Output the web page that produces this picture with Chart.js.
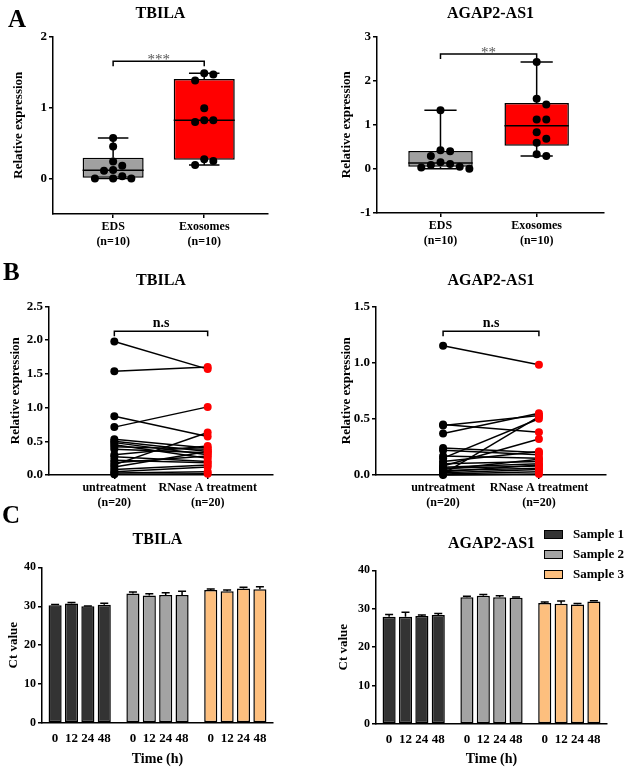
<!DOCTYPE html>
<html>
<head>
<meta charset="utf-8">
<script src="https://cdn.jsdelivr.net/npm/chart.js@4.4.1/dist/chart.umd.min.js"></script>
<style>
  body { margin: 0; background: #fff; }
  #fig { position: relative; width: 628px; height: 768px; font-family: 'Liberation Serif', 'Times New Roman', serif; }
  #fig canvas { position: absolute; }
  .letter { position: absolute; font-weight: bold; font-size: 25px; line-height: 1; }
  #legend { position: absolute; left: 544px; top: 524px; font-weight: bold; font-size: 13px; }
  #legend div { height: 20px; display: flex; align-items: center; }
  #legend .box { width: 17px; height: 7px; border: 1.5px solid #000; margin-right: 10px; }
</style>
</head>
<body>
<div id="fig">
  <canvas id="aLeft" width="314" height="250" style="left:0;top:0"></canvas>
  <canvas id="aRight" width="314" height="250" style="left:314px;top:0"></canvas>
  <canvas id="bLeft" width="314" height="262" style="left:0;top:250px"></canvas>
  <canvas id="bRight" width="314" height="262" style="left:314px;top:250px"></canvas>
  <canvas id="cLeft" width="314" height="268" style="left:0;top:500px"></canvas>
  <canvas id="cRight" width="314" height="268" style="left:314px;top:500px"></canvas>
  <div class="letter" style="left:8px;top:6px">A</div>
  <div class="letter" style="left:3px;top:259px">B</div>
  <div class="letter" style="left:2px;top:502px">C</div>
  <div id="legend"></div>
</div>
<script>
// panel A: exosome vs EDS, raw points per group
const boxLabels = [["EDS", "(n=10)"], ["Exosomes", "(n=10)"]];
const tbilaEds = [0.57, 0.45, 0.24, 0.18, 0.12, 0.11, 0.03, 0.0, 0.0, 0.0];
const tbilaExo = [1.48, 1.465, 1.38, 0.99, 0.82, 0.82, 0.795, 0.27, 0.245, 0.19];
const agapEds = [1.33, 0.42, 0.40, 0.29, 0.15, 0.11, 0.09, 0.05, 0.03, 0.0];
const agapExo = [2.42, 1.59, 1.46, 1.12, 1.12, 0.83, 0.68, 0.59, 0.33, 0.29];
const tbilaTicksA = [0, 1, 2];
const agapTicksA = [-1, 0, 1, 2, 3];

// panel B: paired samples, untreated -> RNase A
const pairLabels = [["untreatment", "(n=20)"], ["RNase A treatment", "(n=20)"]];
const tbilaUntreated = [1.98, 1.54, 0.87, 0.71, 0.53, 0.50, 0.48, 0.45, 0.42, 0.38, 0.30, 0.27, 0.22, 0.18, 0.15, 0.12, 0.08, 0.05, 0.03, 0.01];
const tbilaRnase =     [1.57, 1.60, 0.57, 1.01, 0.40, 0.35, 0.30, 0.25, 0.38, 0.33, 0.43, 0.20, 0.18, 0.28, 0.63, 0.35, 0.15, 0.12, 0.05, 0.02];
const agapUntreated = [1.15, 0.45, 0.44, 0.37, 0.24, 0.22, 0.17, 0.15, 0.12, 0.10, 0.08, 0.07, 0.06, 0.05, 0.04, 0.03, 0.02, 0.01, 0.01, 0.00];
const agapRnase =     [0.98, 0.38, 0.53, 0.55, 0.20, 0.18, 0.15, 0.50, 0.21, 0.12, 0.32, 0.10, 0.08, 0.14, 0.06, 0.09, 0.05, 0.03, 0.52, 0.01];
const tbilaTicksB = [0, 0.5, 1.0, 1.5, 2.0, 2.5];
const agapTicksB = [0, 0.5, 1.0, 1.5];

// panel C: Ct values over time per sample
const timeLabels = ["0", "12", "24", "48"];
const sampleNames = ["Sample 1", "Sample 2", "Sample 3"];
const sampleColors = ["#333333", "#a3a3a3", "#fdbf7e"];
const tbilaCt1 = [30.3, 30.7, 30.0, 30.4];
const tbilaCt2 = [33.3, 32.8, 32.9, 32.9];
const tbilaCt3 = [34.2, 33.9, 34.6, 34.4];
const tbilaErr1 = [0.15, 0.3, 0.1, 0.4];
const tbilaErr2 = [0.4, 0.4, 0.6, 1.0];
const tbilaErr3 = [0.25, 0.3, 0.3, 0.6];
const agapCt1 = [27.9, 27.9, 28.1, 28.4];
const agapCt2 = [33.0, 33.4, 33.0, 32.9];
const agapCt3 = [31.5, 31.3, 31.1, 31.9];
const agapErr1 = [0.6, 1.2, 0.3, 0.4];
const agapErr2 = [0.3, 0.3, 0.4, 0.2];
const agapErr3 = [0.25, 0.7, 0.3, 0.2];
const ctTicks = [0, 10, 20, 30, 40];

const serif = "'Liberation Serif', 'Times New Roman', serif";
Chart.defaults.font.family = serif;
Chart.defaults.font.weight = 'bold';
Chart.defaults.color = '#000';
Chart.defaults.animation = false;
Chart.defaults.plugins.legend.display = false;
Chart.defaults.plugins.tooltip.enabled = false;

function yAxis(o) {
  return {
    type: 'linear', min: o.min, max: o.max,
    border: { display: true, color: '#000', width: 1.5 },
    grid: { drawOnChartArea: false, tickLength: 4, color: '#000', lineWidth: 1.5 },
    ticks: { font: { size: o.tickSize || 13, weight: 'bold' }, color: '#000', padding: 2,
             callback: o.fmt || (v => v) },
    title: { display: true, text: o.title, font: { size: 13, weight: 'bold' }, color: '#000',
             padding: { top: o.titlePad, bottom: 0 } },
    afterBuildTicks: axis => { axis.ticks = o.ticks.map(v => ({ value: v })); },
    afterFit: axis => { axis.width = o.width; }
  };
}

function xAxis(o) {
  return {
    type: 'linear', min: o.min, max: o.max, offset: false,
    border: { display: true, color: '#000', width: 1.5 },
    grid: { display: o.tickMarks !== false, offset: false, drawOnChartArea: false, tickLength: 4, color: '#000', lineWidth: 1.5 },
    ticks: { font: { size: o.tickSize || 12, weight: 'bold' }, color: '#000', padding: o.pad,
             maxRotation: 0, autoSkip: false, callback: (v, i) => o.labels[i] },
    title: o.title
      ? { display: true, text: o.title, font: { size: 14, weight: 'bold' }, color: '#000', padding: { top: 0, bottom: 0 } }
      : { display: false },
    afterBuildTicks: axis => { axis.ticks = o.positions.map(v => ({ value: v })); },
    afterFit: axis => { axis.height = o.height; }
  };
}

// title centred over the plot area, like the original panels
function titleOpts(text, top, bottom) {
  return { display: true, fullSize: false, text: text, color: '#000', font: { size: 16, weight: 'bold' },
           padding: { top: top, bottom: bottom } };
}

// quartile like GraphPad: position p*(n+1)
function quantile(sorted, p) {
  const pos = p * (sorted.length + 1) - 1;
  const lo = Math.min(Math.max(Math.floor(pos), 0), sorted.length - 1);
  const hi = Math.min(lo + 1, sorted.length - 1);
  const frac = Math.max(pos - Math.floor(pos), 0);
  return sorted[lo] + (sorted[hi] - sorted[lo]) * frac;
}

function boxStats(values) {
  const s = [...values].sort((a, b) => a - b);
  return { min: s[0], q1: quantile(s, 0.25), med: quantile(s, 0.5), q3: quantile(s, 0.75), max: s[s.length - 1] };
}

// simple beeswarm so points with close values sit side by side
function swarm(values, span, step) {
  const placed = [];
  const cands = [0, 1, -1, 2, -2, 3, -3].map(k => k * step);
  return values.map(v => {
    const near = placed.filter(p => Math.abs(p.v - v) < span * 0.045);
    let off = cands.find(c => !near.some(p => Math.abs(p.off - c) < step * 0.9));
    if (off === undefined) off = 0;
    placed.push({ v, off });
    return off;
  });
}

const boxPlugin = {
  id: 'boxExtras',
  afterDatasetDraw(chart, args, opts) {
    if (args.index !== 0) return;
    const ctx = chart.ctx;
    const y = chart.scales.y;
    const px = v => y.getPixelForValue(v);
    ctx.save();
    ctx.strokeStyle = '#000';
    ctx.lineWidth = 1.5;
    opts.stats.forEach((s, i) => {
      const b = args.meta.data[i];
      const half = b.width / 2;
      ctx.beginPath();
      ctx.moveTo(b.x - half, px(s.med)); ctx.lineTo(b.x + half, px(s.med));
      ctx.moveTo(b.x, px(s.q3)); ctx.lineTo(b.x, px(s.max));
      ctx.moveTo(b.x - half / 2, px(s.max)); ctx.lineTo(b.x + half / 2, px(s.max));
      ctx.moveTo(b.x, px(s.q1)); ctx.lineTo(b.x, px(s.min));
      ctx.moveTo(b.x - half / 2, px(s.min)); ctx.lineTo(b.x + half / 2, px(s.min));
      ctx.stroke();
    });
    ctx.restore();
  }
};

const sigPlugin = {
  id: 'sig',
  afterDraw(chart, args, o) {
    const { ctx, scales: { x, y } } = chart;
    const x0 = x.getPixelForValue(0), x1 = x.getPixelForValue(1), yy = y.getPixelForValue(o.at);
    ctx.save();
    ctx.strokeStyle = '#000';
    ctx.lineWidth = 1.5;
    ctx.beginPath();
    ctx.moveTo(x0, yy + 5); ctx.lineTo(x0, yy); ctx.lineTo(x1, yy); ctx.lineTo(x1, yy + 5);
    ctx.stroke();
    ctx.fillStyle = o.color || '#000';
    ctx.font = o.font;
    ctx.textAlign = 'center';
    ctx.textBaseline = 'alphabetic';
    ctx.fillText(o.text, (x0 + x1) / 2, yy + o.dy);
    ctx.restore();
  }
};

const errPlugin = {
  id: 'errBars',
  afterDatasetsDraw(chart) {
    const ctx = chart.ctx;
    const y = chart.scales.y;
    ctx.save();
    ctx.strokeStyle = '#000';
    ctx.lineWidth = 1.5;
    chart.data.datasets.forEach((ds, di) => {
      const meta = chart.getDatasetMeta(di);
      ds.errors.forEach((e, i) => {
        const b = meta.data[i];
        const top = y.getPixelForValue(ds.data[i].y + e);
        ctx.beginPath();
        ctx.moveTo(b.x, b.y); ctx.lineTo(b.x, top);
        ctx.moveTo(b.x - 4, top); ctx.lineTo(b.x + 4, top);
        ctx.stroke();
      });
    });
    ctx.restore();
  }
};

function boxChart(id, title, eds, exo, yo, sig, layout) {
  const groups = [eds, exo];
  const span = yo.max - yo.min;
  const points = [];
  groups.forEach((vals, gi) => {
    const offs = swarm(vals, span, 0.1);
    vals.forEach((v, k) => points.push({ x: gi + offs[k], y: v }));
  });
  const stats = groups.map(boxStats);
  new Chart(document.getElementById(id), {
    type: 'bar',
    data: {
      datasets: [
        { type: 'bar', data: stats.map((s, gi) => ({ x: gi, y: [s.q1, s.q3] })),
          backgroundColor: ['#a0a0a0', '#ff0000'], borderColor: '#000', borderWidth: 1.5,
          borderSkipped: false, categoryPercentage: 1, barPercentage: 0.67, order: 2 },
        { type: 'scatter', data: points, pointRadius: 4, pointBackgroundColor: '#000',
          pointBorderColor: '#000', pointBorderWidth: 0, order: 1, clip: false }
      ]
    },
    options: {
      responsive: false,
      layout: { padding: { left: 0, top: 0, bottom: 0, right: layout.right } },
      scales: {
        x: xAxis({ min: -0.66, max: 1.7, positions: [0, 1], labels: boxLabels, pad: 2, height: layout.xh }),
        y: yAxis(yo)
      },
      plugins: {
        title: titleOpts(title, 4, 13.2),
        boxExtras: { stats: stats },
        sig: sig
      }
    },
    plugins: [boxPlugin, sigPlugin]
  });
}

function pairChart(id, title, before, after, yo, sig, layout) {
  const datasets = before.map((b, i) => ({
    data: [{ x: 0, y: b }, { x: 1, y: after[i] }],
    borderColor: '#000', borderWidth: 1.5,
    pointRadius: 4, pointBorderWidth: 0,
    pointBackgroundColor: ['#000', '#ff0000'], pointBorderColor: ['#000', '#ff0000'],
    clip: false
  }));
  new Chart(document.getElementById(id), {
    type: 'line',
    data: { datasets: datasets },
    options: {
      responsive: false,
      layout: { padding: { left: 0, top: 0, bottom: 0, right: layout.right } },
      scales: {
        x: xAxis({ min: -0.7, max: 1.7, positions: [0, 1], labels: pairLabels, pad: 2, height: 37 }),
        y: yAxis(yo)
      },
      plugins: {
        title: titleOpts(title, 21.6, 15.6),
        sig: sig
      }
    },
    plugins: [sigPlugin]
  });
}

function ctChart(id, title, series, errors, yo, layout) {
  const stride = 4.75;
  const positions = [];
  const labels = [];
  sampleNames.forEach((n, g) => timeLabels.forEach((t, i) => { positions.push(g * stride + i); labels.push(t); }));
  const datasets = series.map((vals, g) => ({
    label: sampleNames[g],
    data: vals.map((v, i) => ({ x: g * stride + i, y: v })),
    errors: errors[g],
    backgroundColor: sampleColors[g], borderColor: '#000', borderWidth: 1.5,
    borderSkipped: false, grouped: false, categoryPercentage: 1, barPercentage: 0.8
  }));
  new Chart(document.getElementById(id), {
    type: 'bar',
    data: { datasets: datasets },
    options: {
      responsive: false,
      layout: { padding: { left: 0, top: 0, bottom: 0, right: layout.right } },
      scales: {
        x: xAxis({ min: -0.8, max: 13.3, positions: positions, labels: labels, pad: 4,
                   height: layout.xh, title: 'Time (h)', tickMarks: false, tickSize: 13 }),
        y: yAxis(yo)
      },
      plugins: { title: titleOpts(title, layout.tt, layout.tb) }
    },
    plugins: [errPlugin]
  });
}

boxChart('aLeft', 'TBILA', tbilaEds, tbilaExo,
  { min: -0.5, max: 2, ticks: tbilaTicksA, width: 53, title: 'Relative expression', titlePad: 11 },
  { at: 1.65, text: '***', font: '15px ' + serif, color: '#555', dy: 3 },
  { right: 46, xh: 36 });

boxChart('aRight', 'AGAP2-AS1', agapEds, agapExo,
  { min: -1, max: 3, ticks: agapTicksA, width: 63, title: 'Relative expression', titlePad: 25 },
  { at: 2.6, text: '**', font: '15px ' + serif, color: '#555', dy: 3 },
  { right: 24, xh: 37 });

pairChart('bLeft', 'TBILA', tbilaUntreated, tbilaRnase,
  { min: 0, max: 2.5, ticks: tbilaTicksB, width: 49, title: 'Relative expression', titlePad: 8, fmt: v => v.toFixed(1) },
  { at: 2.13, text: 'n.s', font: 'bold 14px ' + serif, dy: -4 },
  { right: 41 });

pairChart('bRight', 'AGAP2-AS1', agapUntreated, agapRnase,
  { min: 0, max: 1.5, ticks: agapTicksB, width: 62, title: 'Relative expression', titlePad: 25, fmt: v => v.toFixed(1) },
  { at: 1.28, text: 'n.s', font: 'bold 14px ' + serif, dy: -4 },
  { right: 22 });

ctChart('cLeft', 'TBILA', [tbilaCt1, tbilaCt2, tbilaCt3], [tbilaErr1, tbilaErr2, tbilaErr3],
  { min: 0, max: 40, ticks: ctTicks, width: 42, title: 'Ct value', titlePad: 6, tickSize: 12 },
  { right: 41, xh: 45, tt: 30.6, tb: 17.6 });

ctChart('cRight', 'AGAP2-AS1', [agapCt1, agapCt2, agapCt3], [agapErr1, agapErr2, agapErr3],
  { min: 0, max: 40, ticks: ctTicks, width: 62, title: 'Ct value', titlePad: 22, tickSize: 12 },
  { right: 21, xh: 44, tt: 34.6, tb: 16.6 });

// legend for panel C
const legend = document.getElementById('legend');
sampleNames.forEach((n, i) => {
  const row = document.createElement('div');
  row.innerHTML = '<span class="box" style="background:' + sampleColors[i] + '"></span>' + n;
  legend.appendChild(row);
});
</script>
</body>
</html>
